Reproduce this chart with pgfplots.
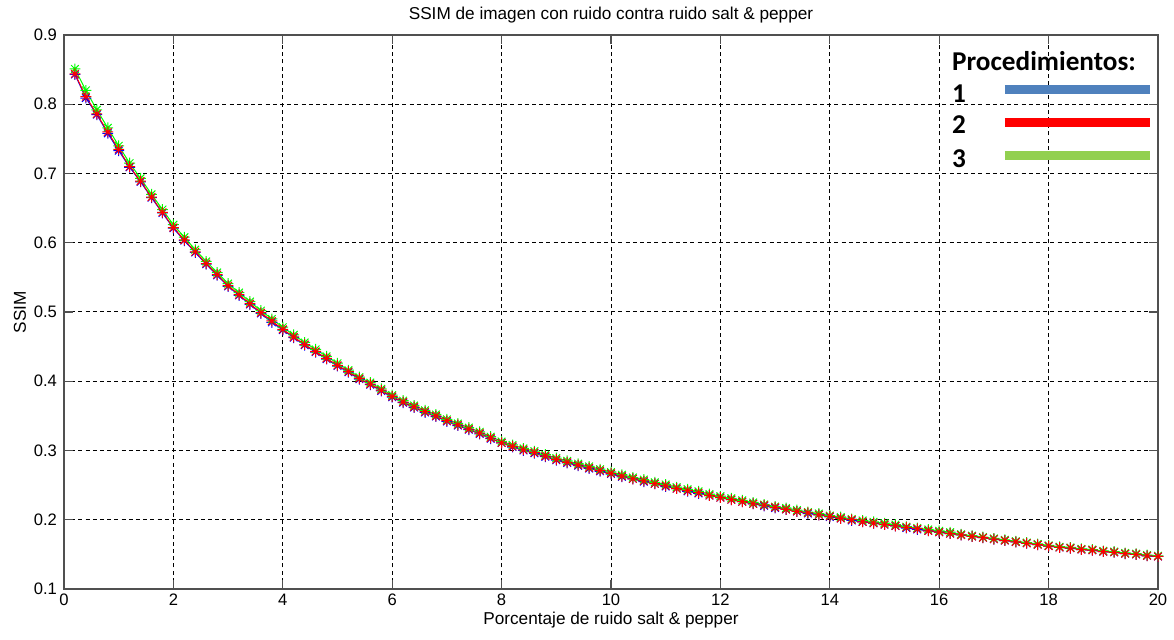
\documentclass[border=0pt]{standalone}
\usepackage{pgfplots}
\usepackage{pgfplotstable}
\pgfplotsset{compat=1.18}
\usepackage{fontspec}
\setmainfont{Liberation Sans}
\newfontfamily\calibri{Carlito}

\definecolor{legblue}{RGB}{79,129,189}
\definecolor{leggreen}{RGB}{146,208,80}
\definecolor{axgray}{RGB}{80,80,80}

% eight-spoked asterisk marker
\pgfdeclareplotmark{star8}{%
  \pgfpathmoveto{\pgfqpoint{-\pgfplotmarksize}{0pt}}%
  \pgfpathlineto{\pgfqpoint{\pgfplotmarksize}{0pt}}%
  \pgfpathmoveto{\pgfqpoint{0pt}{-\pgfplotmarksize}}%
  \pgfpathlineto{\pgfqpoint{0pt}{\pgfplotmarksize}}%
  \pgfpathmoveto{\pgfqpoint{-0.707\pgfplotmarksize}{-0.707\pgfplotmarksize}}%
  \pgfpathlineto{\pgfqpoint{0.707\pgfplotmarksize}{0.707\pgfplotmarksize}}%
  \pgfpathmoveto{\pgfqpoint{-0.707\pgfplotmarksize}{0.707\pgfplotmarksize}}%
  \pgfpathlineto{\pgfqpoint{0.707\pgfplotmarksize}{-0.707\pgfplotmarksize}}%
  \pgfusepathqstroke}

% x = noise percentage; p1, p2, p3 = SSIM of procedures 1, 2, 3
\pgfplotstableread{
x p1 p2 p3
0.2 0.843 0.844 0.851
0.4 0.809 0.811 0.820
0.6 0.785 0.786 0.792
0.8 0.758 0.760 0.766
1.0 0.733 0.735 0.740
1.2 0.709 0.710 0.715
1.4 0.688 0.689 0.693
1.6 0.665 0.666 0.670
1.8 0.643 0.644 0.648
2.0 0.621 0.622 0.626
2.2 0.603 0.604 0.608
2.4 0.586 0.587 0.590
2.6 0.569 0.570 0.573
2.8 0.553 0.554 0.557
3.0 0.537 0.538 0.541
3.2 0.524 0.525 0.528
3.4 0.511 0.512 0.515
3.6 0.498 0.499 0.502
3.8 0.485 0.487 0.490
4.0 0.474 0.475 0.478
4.2 0.463 0.464 0.467
4.4 0.452 0.453 0.456
4.6 0.442 0.443 0.446
4.8 0.432 0.433 0.436
5.0 0.422 0.423 0.426
5.2 0.413 0.414 0.416
5.4 0.403 0.404 0.406
5.6 0.395 0.396 0.398
5.8 0.386 0.387 0.389
6.0 0.377 0.378 0.380
6.2 0.369 0.370 0.372
6.4 0.362 0.363 0.365
6.6 0.355 0.356 0.358
6.8 0.349 0.350 0.352
7.0 0.342 0.343 0.345
7.2 0.336 0.337 0.339
7.4 0.330 0.331 0.333
7.6 0.324 0.325 0.327
7.8 0.317 0.318 0.320
8.0 0.311 0.311 0.313
8.2 0.305 0.306 0.308
8.4 0.300 0.301 0.303
8.6 0.296 0.297 0.299
8.8 0.291 0.292 0.294
9.0 0.286 0.287 0.289
9.2 0.282 0.283 0.285
9.4 0.278 0.279 0.281
9.6 0.274 0.275 0.277
9.8 0.270 0.271 0.273
10.0 0.266 0.267 0.269
10.2 0.262 0.263 0.265
10.4 0.259 0.259 0.261
10.6 0.255 0.256 0.258
10.8 0.252 0.252 0.254
11.0 0.248 0.249 0.251
11.2 0.245 0.245 0.247
11.4 0.241 0.242 0.244
11.6 0.238 0.239 0.241
11.8 0.235 0.235 0.237
12.0 0.232 0.232 0.234
12.2 0.229 0.229 0.231
12.4 0.226 0.226 0.228
12.6 0.223 0.223 0.225
12.8 0.220 0.221 0.222
13.0 0.217 0.218 0.219
13.2 0.215 0.215 0.217
13.4 0.212 0.212 0.214
13.6 0.209 0.210 0.211
13.8 0.207 0.207 0.209
14.0 0.204 0.205 0.206
14.2 0.202 0.202 0.204
14.4 0.199 0.200 0.201
14.6 0.197 0.197 0.199
14.8 0.195 0.195 0.197
15.0 0.193 0.193 0.195
15.2 0.191 0.191 0.193
15.4 0.188 0.189 0.190
15.6 0.186 0.187 0.188
15.8 0.184 0.184 0.186
16.0 0.182 0.182 0.184
16.2 0.180 0.180 0.182
16.4 0.178 0.178 0.179
16.6 0.176 0.176 0.177
16.8 0.174 0.174 0.175
17.0 0.172 0.172 0.173
17.2 0.170 0.170 0.171
17.4 0.168 0.168 0.169
17.6 0.166 0.166 0.167
17.8 0.164 0.164 0.165
18.0 0.162 0.162 0.163
18.2 0.160 0.160 0.161
18.4 0.159 0.159 0.160
18.6 0.157 0.157 0.158
18.8 0.156 0.156 0.157
19.0 0.154 0.154 0.155
19.2 0.153 0.153 0.154
19.4 0.151 0.151 0.152
19.6 0.150 0.150 0.151
19.8 0.148 0.148 0.149
20.0 0.147 0.147 0.148
}\ssimdata

\begin{document}
\begin{tikzpicture}
\useasboundingbox (-32pt,-25.5pt) rectangle (555pt,294.5pt);
\begin{axis}[
  at={(0pt,0pt)}, anchor=south west,
  scale only axis,
  width=547pt, height=277pt,
  xmin=0, xmax=20, ymin=0.1, ymax=0.9,
  xtick={0,2,...,20},
  ytick={0.1,0.2,...,0.9},
  yticklabel style={/pgf/number format/.cd, fixed, fixed zerofill, precision=1},
  /pgf/number format/assume math mode=true,
  tick label style={font=\fontsize{8.3}{10}\selectfont, text=black},
  xticklabel style={yshift=1pt},
  label style={font=\fontsize{8.6}{10}\selectfont},
  title style={font=\fontsize{8.6}{10}\selectfont, yshift=-3.5pt},
  title={SSIM de imagen con ruido contra ruido salt \& pepper},
  xlabel={Porcentaje de ruido salt \& pepper},
  ylabel={SSIM},
  xlabel style={yshift=4pt},
  ylabel style={yshift=-3pt},
  axis line style={axgray, line width=0.6pt},
  tick style={axgray, line width=0.6pt},
  major tick length=4.5pt,
  tick align=inside,
  grid=major,
  major grid style={black, line width=0.5pt, dash pattern=on 2pt off 1.6pt},
  every axis plot/.append style={line width=0.5pt, mark=star8, mark size=2.7pt},
]
\addplot[blue, mark options={blue}] table[x=x, y=p1] {\ssimdata};
\addplot[green, mark options={green}] table[x=x, y=p3] {\ssimdata};
\addplot[red, mark options={red}] table[x=x, y=p2] {\ssimdata};

% procedure key
\node[anchor=west, inner sep=0pt, font=\calibri\bfseries\fontsize{13.6}{15}\selectfont]
  at (axis cs:16.23,0.862) {Procedimientos:};
\node[anchor=west, inner sep=0pt, font=\calibri\bfseries\fontsize{13.6}{15}\selectfont]
  at (axis cs:16.23,0.815) {1};
\node[anchor=west, inner sep=0pt, font=\calibri\bfseries\fontsize{13.6}{15}\selectfont]
  at (axis cs:16.23,0.770) {2};
\node[anchor=west, inner sep=0pt, font=\calibri\bfseries\fontsize{13.6}{15}\selectfont]
  at (axis cs:16.23,0.722) {3};
\draw[legblue, line width=4.5pt] (axis cs:17.2,0.8206) -- (axis cs:19.85,0.8206);
\draw[red, line width=4.5pt] (axis cs:17.2,0.773) -- (axis cs:19.85,0.773);
\draw[leggreen, line width=4.5pt] (axis cs:17.2,0.7267) -- (axis cs:19.85,0.7267);
\end{axis}
\end{tikzpicture}
\end{document}
